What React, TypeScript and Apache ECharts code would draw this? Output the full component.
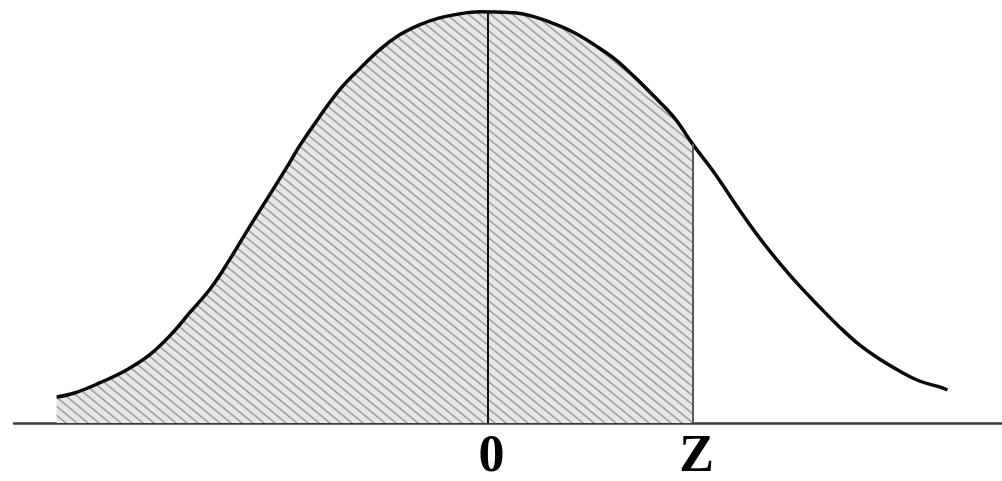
import React, { useEffect, useRef } from "react";
import * as echarts from "echarts";

// Curve (x in z-units, y as density)
const curveX = [-2.102, -2.015, -1.893, -1.761, -1.649, -1.537, -1.454, -1.346, -1.259, -1.161, -1.063, -0.966, -0.917, -0.820, -0.722, -0.624, -0.527, -0.429, -0.332, -0.234, -0.137, -0.039, 0.132, 0.229, 0.327, 0.424, 0.522, 0.620, 0.717, 0.815, 0.912, 1.0, 1.107, 1.229, 1.327, 1.424, 1.522, 1.620, 1.717, 1.815, 1.912, 2.010, 2.107, 2.205, 2.244];
const curveY = [0.0254, 0.0293, 0.0391, 0.0518, 0.0664, 0.0879, 0.1074, 0.1328, 0.1592, 0.1914, 0.2227, 0.2539, 0.2705, 0.2988, 0.3252, 0.3457, 0.3643, 0.3789, 0.3887, 0.3955, 0.3994, 0.4014, 0.4004, 0.3965, 0.3896, 0.3809, 0.3691, 0.3555, 0.3379, 0.3184, 0.2979, 0.2725, 0.2441, 0.2080, 0.1807, 0.1563, 0.1338, 0.1133, 0.0938, 0.0762, 0.0625, 0.0508, 0.0410, 0.0352, 0.0322];
const zValue = 1.0;
const peakValue = 0.401;
const tickValues = [0, zValue];
const tickLabels = ["0", "Z"];

function makeHatch(): HTMLCanvasElement {
  const w = 11;
  const h = 9;
  const c = document.createElement("canvas");
  c.width = w;
  c.height = h;
  const ctx = c.getContext("2d")!;
  ctx.fillStyle = "#e7e7e7";
  ctx.fillRect(0, 0, w, h);
  ctx.strokeStyle = "#a0a0a0";
  ctx.lineWidth = 1.7;
  const s = w / h;
  for (const k of [-w, 0, w]) {
    ctx.beginPath();
    ctx.moveTo(k - s, -1);
    ctx.lineTo(k + w + s, h + 1);
    ctx.stroke();
  }
  return c;
}

export default function App() {
  const ref = useRef<HTMLDivElement>(null);
  useEffect(() => {
    if (!ref.current) return;
    const chart = echarts.init(ref.current, null, { renderer: "svg" });
    const full = curveX.map((x, i) => [x, curveY[i]]);
    const shaded = full.filter((p) => p[0] <= zValue);
    const zHeight = curveY[curveX.indexOf(zValue)];
    const hatch = makeHatch();
    chart.setOption({
      animation: false,
      grid: { left: 14, right: 0, top: 3, bottom: 58 },
      xAxis: {
        type: "value",
        min: -2.31,
        max: 2.51,
        axisLine: { show: true, onZero: false, lineStyle: { color: "#3a3a3a", width: 2.5 } },
        axisTick: { show: false },
        splitLine: { show: false },
        axisLabel: {
          customValues: tickValues,
          formatter: (v: number) => tickLabels[tickValues.indexOf(v)] ?? "",
          fontFamily: "Liberation Serif",
          fontWeight: "bold",
          fontSize: 52,
          color: "#000",
          margin: 4,
          padding: [0, 0, 0, 8],
        },
      },
      yAxis: { type: "value", min: 0, max: 0.41, show: false },
      series: [
        {
          type: "line",
          data: shaded,
          smooth: 0.4,
          symbol: "none",
          lineStyle: { width: 0 },
          areaStyle: {
            opacity: 1,
            color: { image: hatch, repeat: "repeat", imageWidth: 11, imageHeight: 9 },
          },
          z: 1,
        },
        {
          type: "line",
          data: full,
          smooth: 0.4,
          symbol: "none",
          lineStyle: { color: "#0a0a0a", width: 3.5 },
          z: 3,
          markLine: {
            silent: true,
            symbol: "none",
            label: { show: false },
            data: [
              [
                { coord: [0, 0], lineStyle: { color: "#111", width: 2, type: "solid" } },
                { coord: [0, peakValue] },
              ],
              [
                { coord: [zValue, 0], lineStyle: { color: "#5a5a5a", width: 2, type: "solid" } },
                { coord: [zValue, zHeight] },
              ],
            ],
          },
        },
      ],
    });
    return () => chart.dispose();
  }, []);
  return <div ref={ref} style={{ width: 1002, height: 481, position: "absolute", left: 0, top: 0 }} />;
}
